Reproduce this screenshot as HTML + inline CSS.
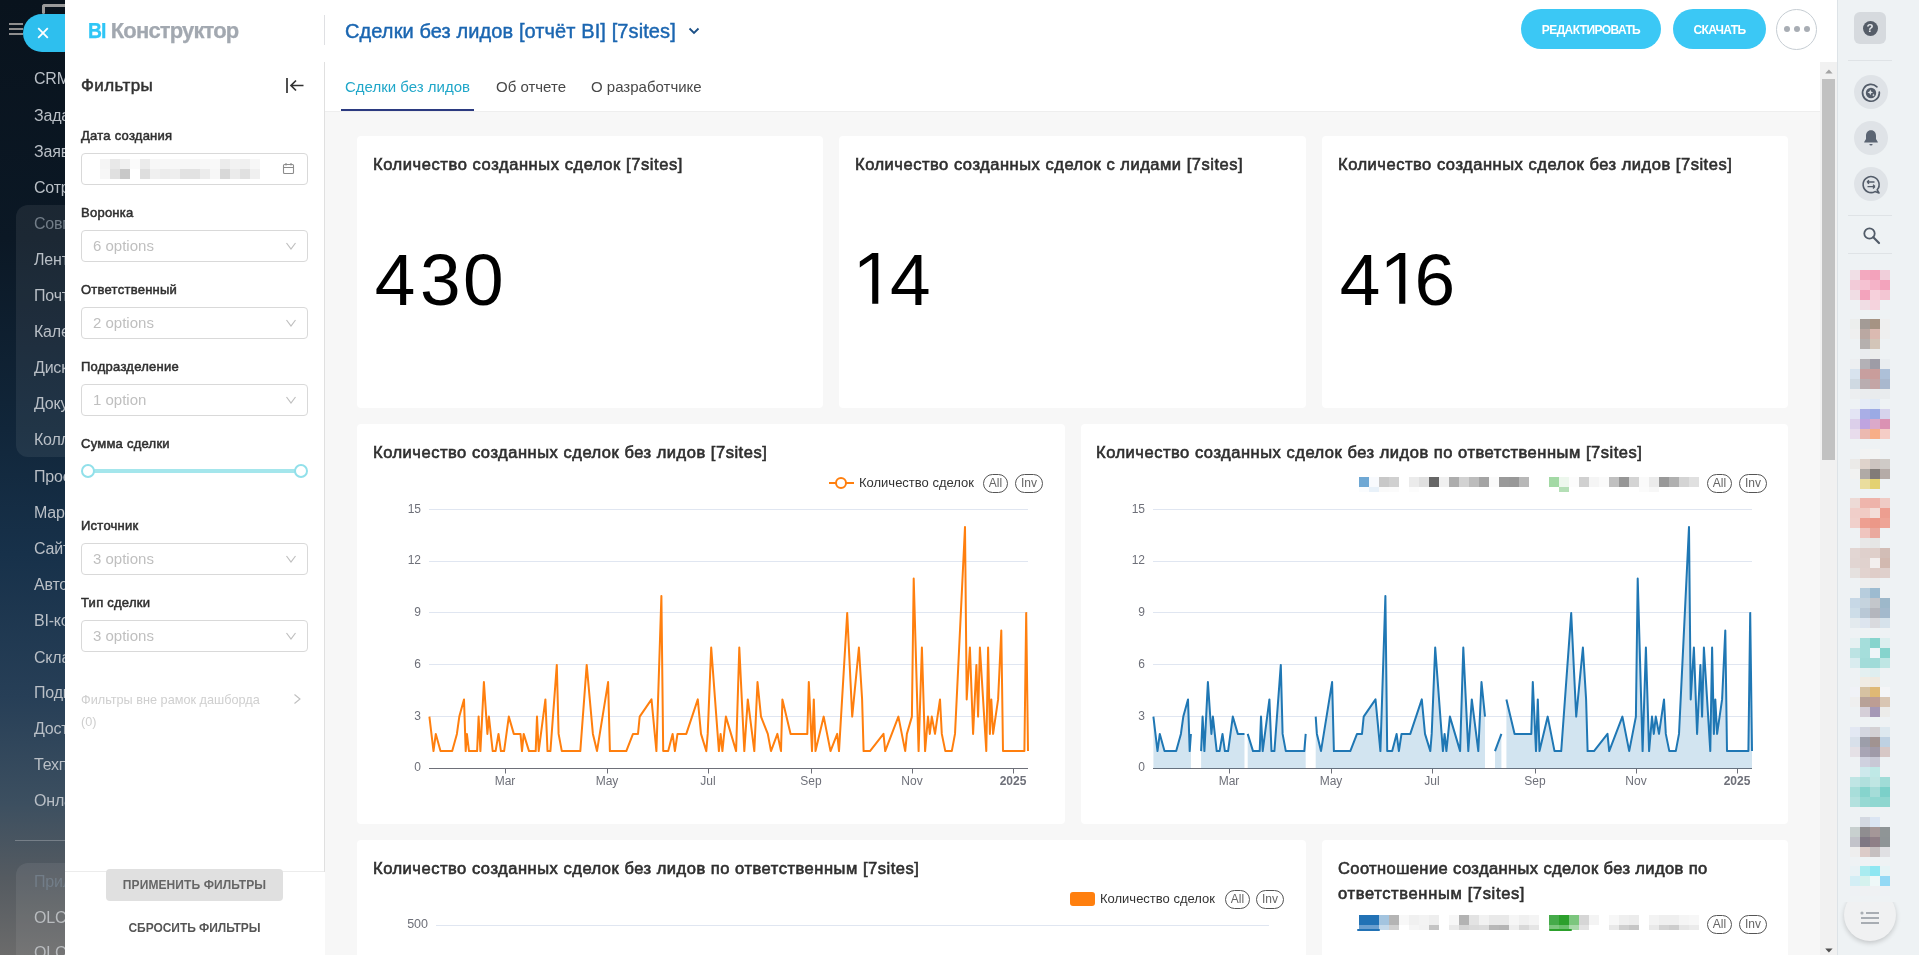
<!DOCTYPE html>
<html lang="ru">
<head>
<meta charset="utf-8">
<title>BI Конструктор</title>
<style>
*{box-sizing:border-box;margin:0;padding:0}
html,body{width:1919px;height:955px;overflow:hidden;background:#fff;font-family:"Liberation Sans",sans-serif;}
body{position:relative}
#root{position:absolute;left:0;top:0;width:1919px;height:955px;overflow:hidden;will-change:transform}
.abs{position:absolute}
/* left dark menu */
#lm{position:absolute;left:0;top:0;width:65px;height:955px;overflow:hidden;
 background:linear-gradient(180deg,#09131d 0%,#0b1825 25%,#11263a 45%,#17314a 58%,#273f57 73%,#3c4f60 84%,#555b61 92%,#6b6b6b 100%);}
#lm .grp{position:absolute;left:16px;width:80px;border-radius:12px;background:rgba(255,255,255,.07)}
#lm .mi{position:absolute;left:34px;margin-top:1.8px;font-size:16px;color:#b9bfc6;white-space:nowrap;line-height:20px;letter-spacing:-.2px}
#lm .mi.dim{color:#727d88}
#lm .sep{position:absolute;left:15px;top:840px;width:60px;height:1px;background:rgba(255,255,255,.25)}
.burger{position:absolute;left:9px;width:14px;height:2px;background:#8e8e8e}
#closeb{position:absolute;left:23px;top:14px;width:60px;height:38px;border-radius:19px;background:#2ebfee}
/* slider panel */
#panel{position:absolute;left:65px;top:0;width:1772px;height:955px;background:#fff;border-radius:4px 4px 0 0}
.logo{position:absolute;left:88px;top:17px;font-size:22px;line-height:28px;font-weight:bold;letter-spacing:-1.05px;white-space:nowrap;-webkit-text-stroke:.25px}
.logo b{color:#2fc6f6;display:inline-block;transform:scaleX(.88);transform-origin:0 50%;margin-right:-2.2px}.logo span{color:#a2a8b0;letter-spacing:-.85px}
.vsep{position:absolute;left:324px;top:15px;width:1px;height:30px;background:#dfe0e3}
.title{position:absolute;left:345px;top:18px;font-size:20px;line-height:26px;color:#1b66b1;white-space:nowrap;-webkit-text-stroke:.45px #1b66b1;letter-spacing:.1px}
.btn{position:absolute;top:9px;height:39.5px;border-radius:20px;background:#3bc8f5;color:#fff;font-weight:bold;font-size:12px;line-height:42.5px;text-align:center;letter-spacing:-.6px}
.more{position:absolute;left:1776px;top:9px;width:41px;height:41px;border-radius:50%;border:1px solid #c6cdd3;background:#fff}
.more i{position:absolute;top:16px;width:6px;height:6px;border-radius:50%;background:#a8adb4}
/* filter bar */
#fb{position:absolute;left:65px;top:62px;width:260px;height:893px;background:#fff;border-right:1px solid #e0e0e0}
.fl{position:absolute;left:81px;margin-top:1px;font-size:13px;line-height:16px;color:#2f2f2f;font-weight:normal;-webkit-text-stroke:.5px #2f2f2f;white-space:nowrap;letter-spacing:.25px}
.sel{position:absolute;left:81px;width:227px;height:32px;border:1px solid #d9d9d9;border-radius:4px;background:#fff;
  font-size:15px;line-height:30px;color:#bfbfbf;padding-left:11px}
.sel svg{position:absolute;right:10px;top:10px}
/* tabs */
.tab{position:absolute;top:78px;font-size:15px;line-height:18px;color:#484848;white-space:nowrap}
/* dashboard */
#dash{position:absolute;left:325px;top:112px;width:1495px;height:843px;background:#f7f7f7}
.card{position:absolute;background:#fff;border-radius:4px}
.ct{position:absolute;font-size:16.5px;line-height:25px;color:#2f2f2f;white-space:nowrap;font-weight:normal;-webkit-text-stroke:.62px #2f2f2f;letter-spacing:.52px}
.big{position:absolute;margin-top:-.5px;font-size:73px;line-height:73px;color:#000;white-space:nowrap}
svg.charts{position:absolute;left:0;top:0;pointer-events:none}
svg.charts text.ax{font-family:"Liberation Sans",sans-serif;font-size:12px;fill:#6e7079}
svg.charts text.axb{font-weight:bold}
.leg{position:absolute;font-size:13px;line-height:16px;color:#333;white-space:nowrap}
.pill{position:absolute;height:19px;border:1px solid #555;border-radius:10px;font-size:12px;line-height:17px;color:#666;text-align:center}
/* scrollbar */
#sb{position:absolute;left:1820px;top:62px;width:17px;height:893px;background:#f1f1f1}
#sb .th{position:absolute;left:2px;top:17px;width:13px;height:381px;background:#c1c1c1}
/* right bar */
#rb{position:absolute;left:1837px;top:0;width:83px;height:955px;background:#eef2f4;border-left:1px solid #dde3e7}
.rsep{position:absolute;left:1848px;width:44px;height:1px;background:#dfe3e6}
.rc{position:absolute;left:1854px;width:34px;height:34px;border-radius:50%;background:#dfe3e7}
.px{position:absolute;width:10px;height:10px}
</style>
</head>
<body>
<div id="root">

<!-- LEFT DARK MENU -->
<div id="lm">
  <div class="grp" style="top:205px;height:252px"></div>
  <div class="grp" style="top:863px;height:120px"></div>
  <div class="burger" style="top:23px"></div><div class="burger" style="top:28px"></div><div class="burger" style="top:33px"></div>
  <div class="abs" style="left:42px;top:4px;width:40px;height:8.5px;border:3px solid #9a9a9a;border-bottom:0;border-right:0;border-radius:3px 0 0 0"></div><div class="abs" style="left:42px;top:11px;width:3px;height:3px;border-radius:0 0 1.5px 1.5px;background:#9a9a9a"></div>
  <div class="mi" style="top:67px">CRM</div>
  <div class="mi" style="top:104px">Задачи</div>
  <div class="mi" style="top:140px">Заявки</div>
  <div class="mi" style="top:176px">Сотрудники</div>
  <div class="mi dim" style="top:212px">Совместная</div>
  <div class="mi" style="top:248px">Лента</div>
  <div class="mi" style="top:284px">Почта</div>
  <div class="mi" style="top:320px">Календарь</div>
  <div class="mi" style="top:356px">Диск</div>
  <div class="mi" style="top:392px">Документы</div>
  <div class="mi" style="top:428px">Коллабы</div>
  <div class="mi" style="top:465px">Проекты</div>
  <div class="mi" style="top:501px">Маркет</div>
  <div class="mi" style="top:537px">Сайты</div>
  <div class="mi" style="top:573px">Автоматизация</div>
  <div class="mi" style="top:609px">BI-конструктор</div>
  <div class="mi" style="top:646px">Склад</div>
  <div class="mi" style="top:681px">Подпись</div>
  <div class="mi" style="top:717px">Доступ</div>
  <div class="mi" style="top:753px">Техподдержка</div>
  <div class="mi" style="top:789px">Онлайн</div>
  <div class="sep"></div>
  <div class="mi dim" style="top:870px">Приложения</div>
  <div class="mi" style="top:906px;color:#b9bcbf">OLCHA</div>
  <div class="mi" style="top:941px;color:#b9bcbf">OLCHA</div>
</div>

<!-- PANEL -->
<div id="panel"></div>
<div id="closeb"><svg class="abs" style="left:14px;top:13px" width="12" height="12" viewBox="0 0 12 12"><path d="M1.2 1.2 L10.8 10.8 M10.8 1.2 L1.2 10.8" stroke="#fff" stroke-width="1.8" fill="none"/></svg></div>
<div id="panelcover" class="abs" style="left:65px;top:0;width:40px;height:62px;background:#fff;border-radius:4px 0 0 0"></div>

<!-- HEADER -->
<div class="logo"><b>BI</b> <span>Конструктор</span></div>
<div class="vsep"></div>
<div class="title">Сделки без лидов [отчёт BI] [7sites]</div>
<svg class="abs" style="left:688px;top:26px" width="12" height="10" viewBox="0 0 12 10"><path d="M1.5 2.5 L6 7 L10.5 2.5" stroke="#1b4f86" stroke-width="1.8" fill="none"/></svg>
<div class="btn" style="left:1521px;width:140px">РЕДАКТИРОВАТЬ</div>
<div class="btn" style="left:1673px;width:93px">СКАЧАТЬ</div>
<div class="more"><i style="left:6.5px"></i><i style="left:16.5px"></i><i style="left:26.5px"></i></div>

<!-- FILTER BAR -->
<div id="fb"></div>
<div class="abs" style="left:81px;top:75px;font-size:17px;line-height:22px;color:#323232;-webkit-text-stroke:.5px #323232;letter-spacing:.4px">Фильтры</div>
<svg class="abs" style="left:285px;top:77px" width="20" height="17" viewBox="0 0 20 17"><path d="M2 1 V16 M18.5 8.5 H6 M11 3.5 L6 8.5 L11 13.5" stroke="#323232" stroke-width="1.7" fill="none"/></svg>

<div class="fl" style="top:127px">Дата создания</div>
<div class="sel" style="top:153px"></div>
<svg class="abs" style="left:282px;top:162px" width="13" height="13" viewBox="0 0 13 13"><rect x="1.5" y="2.5" width="10" height="9" rx="1" fill="none" stroke="#8c8c8c" stroke-width="1.1"/><path d="M1.5 5.5 H11.5 M4 1 V3.5 M9 1 V3.5" stroke="#8c8c8c" stroke-width="1.1" fill="none"/></svg>
<div class="px" style="left:100px;top:159px;height:10px;background:#f5f5f5"></div><div class="px" style="left:110px;top:159px;height:10px;background:#e8e8e8"></div><div class="px" style="left:120px;top:159px;height:10px;background:#f0f0f0"></div><div class="px" style="left:130px;top:159px;height:10px;background:#fbfbfb"></div><div class="px" style="left:140px;top:159px;height:10px;background:#ebebeb"></div><div class="px" style="left:150px;top:159px;height:10px;background:#f7f7f7"></div><div class="px" style="left:160px;top:159px;height:10px;background:#f7f7f7"></div><div class="px" style="left:170px;top:159px;height:10px;background:#f7f7f7"></div><div class="px" style="left:180px;top:159px;height:10px;background:#f7f7f7"></div><div class="px" style="left:190px;top:159px;height:10px;background:#f7f7f7"></div><div class="px" style="left:200px;top:159px;height:10px;background:#f8f8f8"></div><div class="px" style="left:210px;top:159px;height:10px;background:#f9f9f9"></div><div class="px" style="left:220px;top:159px;height:10px;background:#ececec"></div><div class="px" style="left:230px;top:159px;height:10px;background:#f2f2f2"></div><div class="px" style="left:240px;top:159px;height:10px;background:#f0f0f0"></div><div class="px" style="left:250px;top:159px;height:10px;background:#f7f7f7"></div><div class="px" style="left:100px;top:169px;height:10px;background:#f7f7f7"></div><div class="px" style="left:110px;top:169px;height:10px;background:#e0e0e0"></div><div class="px" style="left:120px;top:169px;height:10px;background:#c8c8c8"></div><div class="px" style="left:140px;top:169px;height:10px;background:#dedede"></div><div class="px" style="left:150px;top:169px;height:10px;background:#f0f0f0"></div><div class="px" style="left:160px;top:169px;height:10px;background:#ececec"></div><div class="px" style="left:170px;top:169px;height:10px;background:#eeeeee"></div><div class="px" style="left:180px;top:169px;height:10px;background:#e2e2e2"></div><div class="px" style="left:190px;top:169px;height:10px;background:#e2e2e2"></div><div class="px" style="left:200px;top:169px;height:10px;background:#ececec"></div><div class="px" style="left:210px;top:169px;height:10px;background:#f7f7f7"></div><div class="px" style="left:220px;top:169px;height:10px;background:#d8d8d8"></div><div class="px" style="left:230px;top:169px;height:10px;background:#ebebeb"></div><div class="px" style="left:240px;top:169px;height:10px;background:#e0e0e0"></div><div class="px" style="left:250px;top:169px;height:10px;background:#f0f0f0"></div>

<div class="fl" style="top:204px">Воронка</div>
<div class="sel" style="top:230px">6 options<svg width="12" height="10" viewBox="0 0 12 10"><path d="M1.5 2 L6 8 L10.5 2" stroke="#bfbfbf" stroke-width="1.2" fill="none"/></svg></div>
<div class="fl" style="top:281px">Ответственный</div>
<div class="sel" style="top:307px">2 options<svg width="12" height="10" viewBox="0 0 12 10"><path d="M1.5 2 L6 8 L10.5 2" stroke="#bfbfbf" stroke-width="1.2" fill="none"/></svg></div>
<div class="fl" style="top:358px">Подразделение</div>
<div class="sel" style="top:384px">1 option<svg width="12" height="10" viewBox="0 0 12 10"><path d="M1.5 2 L6 8 L10.5 2" stroke="#bfbfbf" stroke-width="1.2" fill="none"/></svg></div>
<div class="fl" style="top:435px">Сумма сделки</div>
<div class="abs" style="left:88px;top:469px;width:213px;height:4px;background:#a4e6ec"></div>
<div class="abs" style="left:81px;top:464px;width:14px;height:14px;border-radius:50%;border:2px solid #91e0ea;background:#fff"></div>
<div class="abs" style="left:294px;top:464px;width:14px;height:14px;border-radius:50%;border:2px solid #91e0ea;background:#fff"></div>
<div class="fl" style="top:517px">Источник</div>
<div class="sel" style="top:543px">3 options<svg width="12" height="10" viewBox="0 0 12 10"><path d="M1.5 2 L6 8 L10.5 2" stroke="#bfbfbf" stroke-width="1.2" fill="none"/></svg></div>
<div class="fl" style="top:594px">Тип сделки</div>
<div class="sel" style="top:620px">3 options<svg width="12" height="10" viewBox="0 0 12 10"><path d="M1.5 2 L6 8 L10.5 2" stroke="#bfbfbf" stroke-width="1.2" fill="none"/></svg></div>
<div class="abs" style="left:81px;top:693px;font-size:12.7px;line-height:15px;color:#cfcfcf;white-space:nowrap">Фильтры вне рамок дашборда</div>
<div class="abs" style="left:81px;top:715px;font-size:12.7px;line-height:15px;color:#cfcfcf">(0)</div>
<svg class="abs" style="left:292px;top:693px" width="10" height="12" viewBox="0 0 10 12"><path d="M2.5 1.5 L8 6 L2.5 10.5" stroke="#bfbfbf" stroke-width="1.1" fill="none"/></svg>
<div class="abs" style="left:65px;top:871px;width:259px;height:1px;background:#ececec"></div>
<div class="abs" style="left:65px;top:872px;width:260px;height:83px;background:#fff"></div>
<div class="abs" style="left:106px;top:869px;width:177px;height:32px;border-radius:4px;background:#e0e0e0;color:#666;font-size:12px;font-weight:bold;line-height:33px;text-align:center;letter-spacing:.1px">ПРИМЕНИТЬ ФИЛЬТРЫ</div>
<div class="abs" style="left:106px;top:913.3px;width:177px;height:31px;color:#555;font-size:12px;font-weight:bold;line-height:31px;text-align:center;letter-spacing:-.05px">СБРОСИТЬ ФИЛЬТРЫ</div>

<!-- TABS -->
<div class="tab" style="left:345px;color:#20a7c9">Сделки без лидов</div>
<div class="tab" style="left:496px">Об отчете</div>
<div class="tab" style="left:591px">О разработчике</div>
<div class="abs" style="left:325px;top:111px;width:1495px;height:1px;background:#eeeeee"></div>
<div class="abs" style="left:341px;top:109px;width:133px;height:2px;background:#2b3a80"></div>

<!-- DASHBOARD -->
<div id="dash"></div>
<div class="card" style="left:357px;top:136px;width:466px;height:272px"></div>
<div class="card" style="left:839px;top:136px;width:467px;height:272px"></div>
<div class="card" style="left:1322px;top:136px;width:466px;height:272px"></div>
<div class="card" style="left:357px;top:424px;width:708px;height:400px"></div>
<div class="card" style="left:1081px;top:424px;width:707px;height:400px"></div>
<div class="card" style="left:357px;top:840px;width:949px;height:130px"></div>
<div class="card" style="left:1322px;top:840px;width:466px;height:130px"></div>

<div class="ct" style="left:373px;top:152px;letter-spacing:.58px">Количество созданных сделок [7sites]</div>
<div class="ct" style="left:855px;top:152px">Количество созданных сделок с лидами [7sites]</div>
<div class="ct" style="left:1338px;top:152px">Количество созданных сделок без лидов [7sites]</div>
<div class="big" style="left:374.8px;top:243px">4</div><div class="big" style="left:420px;top:243px">3</div><div class="big" style="left:463.1px;top:243px">0</div>
<svg class="abs" style="left:859.0px;top:250px" width="24" height="56" viewBox="0 0 24 56"><path d="M13.2 3.1 H19.3 V53.8 H13.2 V9 L0.8 17.4 V11.5 Z" fill="#000"/></svg><div class="big" style="left:890px;top:243px">4</div>
<div class="big" style="left:1339.8px;top:243px">4</div><svg class="abs" style="left:1386.4px;top:250px" width="24" height="56" viewBox="0 0 24 56"><path d="M13.2 3.1 H19.3 V53.8 H13.2 V9 L0.8 17.4 V11.5 Z" fill="#000"/></svg><div class="big" style="left:1414.5px;top:243px">6</div>

<div class="ct" style="left:373px;top:440px">Количество созданных сделок без лидов [7sites]</div>
<div class="ct" style="left:1096px;top:440px">Количество созданных сделок без лидов по ответственным [7sites]</div>
<div class="ct" style="left:373px;top:856px">Количество созданных сделок без лидов по ответственным [7sites]</div>
<div class="ct" style="left:1338px;top:856px;letter-spacing:.4px">Соотношение созданных сделок без лидов по</div>
<div class="ct" style="left:1338px;top:881px;letter-spacing:.65px">ответственным [7sites]</div>

<svg class="charts" width="1919" height="955" viewBox="0 0 1919 955"><line x1="429" y1="716.5" x2="1028" y2="716.5" stroke="#e0e6f1" stroke-width="1"/><line x1="429" y1="664.5" x2="1028" y2="664.5" stroke="#e0e6f1" stroke-width="1"/><line x1="429" y1="612.5" x2="1028" y2="612.5" stroke="#e0e6f1" stroke-width="1"/><line x1="429" y1="561.5" x2="1028" y2="561.5" stroke="#e0e6f1" stroke-width="1"/><line x1="429" y1="509.5" x2="1028" y2="509.5" stroke="#e0e6f1" stroke-width="1"/><line x1="429" y1="768.5" x2="1028" y2="768.5" stroke="#6e7079" stroke-width="1"/><text x="421" y="771.3" text-anchor="end" class="ax">0</text><text x="421" y="719.5" text-anchor="end" class="ax">3</text><text x="421" y="667.8" text-anchor="end" class="ax">6</text><text x="421" y="616.0" text-anchor="end" class="ax">9</text><text x="421" y="564.3" text-anchor="end" class="ax">12</text><text x="421" y="512.5" text-anchor="end" class="ax">15</text><line x1="505.5" y1="769" x2="505.5" y2="773.5" stroke="#6e7079" stroke-width="1"/><text x="505" y="785" text-anchor="middle" class="ax">Mar</text><line x1="607.5" y1="769" x2="607.5" y2="773.5" stroke="#6e7079" stroke-width="1"/><text x="607" y="785" text-anchor="middle" class="ax">May</text><line x1="708.5" y1="769" x2="708.5" y2="773.5" stroke="#6e7079" stroke-width="1"/><text x="708" y="785" text-anchor="middle" class="ax">Jul</text><line x1="811.5" y1="769" x2="811.5" y2="773.5" stroke="#6e7079" stroke-width="1"/><text x="811" y="785" text-anchor="middle" class="ax">Sep</text><line x1="912.5" y1="769" x2="912.5" y2="773.5" stroke="#6e7079" stroke-width="1"/><text x="912" y="785" text-anchor="middle" class="ax">Nov</text><line x1="1013.5" y1="769" x2="1013.5" y2="773.5" stroke="#6e7079" stroke-width="1"/><text x="1013" y="785" text-anchor="middle" class="ax axb">2025</text><path d="M429.4 716.6 L433.5 751.1 L435.8 733.9 L440.5 751.1 L452.2 751.1 L456.9 733.9 L459.3 716.6 L464.0 699.4 L465.7 751.1 L466.9 733.9 L469.0 751.1 L477.1 751.1 L478.6 716.6 L480.4 751.1 L483.9 682.1 L487.4 733.9 L488.9 716.6 L492.7 751.1 L495.6 751.1 L498.5 733.9 L500.9 751.1 L504.1 751.1 L508.8 716.6 L513.8 733.9 L520.5 733.9 L522.0 751.1 L523.7 733.9 L529.0 751.1 L535.7 751.1 L537.0 716.6 L538.7 751.1 L545.4 699.4 L547.5 751.1 L550.4 751.1 L556.8 664.9 L558.6 733.9 L561.8 751.1 L580.3 751.1 L586.7 664.9 L592.9 733.9 L597.0 751.1 L608.1 682.1 L609.9 751.1 L626.3 751.1 L633.0 733.9 L638.0 733.9 L639.7 716.6 L651.5 699.4 L656.4 751.1 L661.4 595.9 L663.2 751.1 L668.2 751.1 L672.6 733.9 L674.9 751.1 L677.5 733.9 L686.3 733.9 L697.8 699.4 L701.0 733.9 L706.3 751.1 L707.7 733.9 L711.2 647.6 L718.9 751.1 L720.6 733.9 L722.4 751.1 L725.9 716.6 L736.1 751.1 L739.3 647.6 L744.3 751.1 L747.8 699.4 L754.3 751.1 L757.5 682.1 L761.0 716.6 L767.8 733.9 L771.0 751.1 L777.4 733.9 L781.0 751.1 L782.4 699.4 L790.6 733.9 L807.3 733.9 L808.8 682.1 L812.0 751.1 L813.8 699.4 L815.5 751.1 L823.7 716.6 L830.5 751.1 L837.2 733.9 L839.0 751.1 L847.2 613.1 L852.2 716.6 L858.9 647.6 L862.1 699.4 L863.6 751.1 L870.0 751.1 L883.5 733.9 L885.2 751.1 L898.4 716.6 L905.2 751.1 L906.9 733.9 L911.9 716.6 L913.7 578.6 L918.6 751.1 L921.9 647.6 L925.1 751.1 L928.0 716.6 L929.8 733.9 L931.8 716.6 L935.0 733.9 L940.0 699.4 L941.8 733.9 L945.3 751.1 L951.8 751.1 L955.0 733.9 L965.0 526.9 L966.7 699.4 L969.9 647.6 L973.1 733.9 L976.4 664.9 L978.1 716.6 L979.9 647.6 L986.3 751.1 L988.1 647.6 L989.9 733.9 L991.3 699.4 L993.1 733.9 L998.1 699.4 L1001.3 630.4 L1003.0 751.1 L1024.4 751.1 L1026.2 613.1 L1028.0 751.1" fill="none" stroke="#ff7f0e" stroke-width="2" stroke-linejoin="round"/><line x1="1153" y1="716.5" x2="1752" y2="716.5" stroke="#e0e6f1" stroke-width="1"/><line x1="1153" y1="664.5" x2="1752" y2="664.5" stroke="#e0e6f1" stroke-width="1"/><line x1="1153" y1="612.5" x2="1752" y2="612.5" stroke="#e0e6f1" stroke-width="1"/><line x1="1153" y1="561.5" x2="1752" y2="561.5" stroke="#e0e6f1" stroke-width="1"/><line x1="1153" y1="509.5" x2="1752" y2="509.5" stroke="#e0e6f1" stroke-width="1"/><line x1="1153" y1="768.5" x2="1752" y2="768.5" stroke="#6e7079" stroke-width="1"/><text x="1145" y="771.3" text-anchor="end" class="ax">0</text><text x="1145" y="719.5" text-anchor="end" class="ax">3</text><text x="1145" y="667.8" text-anchor="end" class="ax">6</text><text x="1145" y="616.0" text-anchor="end" class="ax">9</text><text x="1145" y="564.3" text-anchor="end" class="ax">12</text><text x="1145" y="512.5" text-anchor="end" class="ax">15</text><line x1="1229.5" y1="769" x2="1229.5" y2="773.5" stroke="#6e7079" stroke-width="1"/><text x="1229" y="785" text-anchor="middle" class="ax">Mar</text><line x1="1331.5" y1="769" x2="1331.5" y2="773.5" stroke="#6e7079" stroke-width="1"/><text x="1331" y="785" text-anchor="middle" class="ax">May</text><line x1="1432.5" y1="769" x2="1432.5" y2="773.5" stroke="#6e7079" stroke-width="1"/><text x="1432" y="785" text-anchor="middle" class="ax">Jul</text><line x1="1535.5" y1="769" x2="1535.5" y2="773.5" stroke="#6e7079" stroke-width="1"/><text x="1535" y="785" text-anchor="middle" class="ax">Sep</text><line x1="1636.5" y1="769" x2="1636.5" y2="773.5" stroke="#6e7079" stroke-width="1"/><text x="1636" y="785" text-anchor="middle" class="ax">Nov</text><line x1="1737.5" y1="769" x2="1737.5" y2="773.5" stroke="#6e7079" stroke-width="1"/><text x="1737" y="785" text-anchor="middle" class="ax axb">2025</text><path d="M1153.4 716.6 L1157.5 751.1 L1159.8 733.9 L1164.5 751.1 L1176.2 751.1 L1180.9 733.9 L1183.3 716.6 L1188.0 699.4 L1189.7 751.1 L1190.9 733.9 L1190.9 768.4 L1153.4 768.4 Z" fill="#1f77b4" fill-opacity="0.2" stroke="none"/><path d="M1201.1 751.1 L1202.6 716.6 L1204.4 751.1 L1207.9 682.1 L1211.4 733.9 L1212.9 716.6 L1216.7 751.1 L1219.6 751.1 L1222.5 733.9 L1224.9 751.1 L1228.1 751.1 L1232.8 716.6 L1237.8 733.9 L1244.5 733.9 L1244.5 768.4 L1201.1 768.4 Z" fill="#1f77b4" fill-opacity="0.2" stroke="none"/><path d="M1247.7 733.9 L1253.0 751.1 L1259.7 751.1 L1261.0 716.6 L1262.7 751.1 L1269.4 699.4 L1271.5 751.1 L1274.4 751.1 L1280.8 664.9 L1282.6 733.9 L1285.8 751.1 L1304.3 751.1 L1305.7 733.9 L1305.7 768.4 L1247.7 768.4 Z" fill="#1f77b4" fill-opacity="0.2" stroke="none"/><path d="M1315.7 716.6 L1316.9 733.9 L1321.0 751.1 L1332.1 682.1 L1333.9 751.1 L1350.3 751.1 L1357.0 733.9 L1362.0 733.9 L1363.7 716.6 L1375.5 699.4 L1380.4 751.1 L1385.4 595.9 L1387.2 751.1 L1392.2 751.1 L1396.6 733.9 L1398.9 751.1 L1401.5 733.9 L1410.3 733.9 L1421.8 699.4 L1425.0 733.9 L1430.3 751.1 L1431.7 733.9 L1435.2 647.6 L1442.9 751.1 L1444.6 733.9 L1446.4 751.1 L1449.9 716.6 L1460.1 751.1 L1463.3 647.6 L1468.3 751.1 L1471.8 699.4 L1478.3 751.1 L1481.5 682.1 L1485.0 716.6 L1485.0 768.4 L1315.7 768.4 Z" fill="#1f77b4" fill-opacity="0.2" stroke="none"/><path d="M1495.0 751.1 L1501.4 733.9 L1501.4 768.4 L1495.0 768.4 Z" fill="#1f77b4" fill-opacity="0.2" stroke="none"/><path d="M1506.4 699.4 L1514.6 733.9 L1531.3 733.9 L1532.8 682.1 L1536.0 751.1 L1537.8 699.4 L1539.5 751.1 L1547.7 716.6 L1554.5 751.1 L1561.2 751.1 L1571.2 613.1 L1576.2 716.6 L1582.9 647.6 L1586.1 699.4 L1587.6 751.1 L1594.0 751.1 L1607.5 733.9 L1609.2 751.1 L1622.4 716.6 L1629.2 751.1 L1635.9 716.6 L1637.7 578.6 L1642.6 751.1 L1645.9 647.6 L1649.1 751.1 L1652.0 716.6 L1653.8 733.9 L1655.8 716.6 L1659.0 733.9 L1664.0 699.4 L1665.8 733.9 L1669.3 751.1 L1675.8 751.1 L1679.0 733.9 L1689.0 526.9 L1690.7 699.4 L1693.9 647.6 L1697.1 733.9 L1700.4 664.9 L1702.1 716.6 L1703.9 647.6 L1710.3 751.1 L1712.1 647.6 L1713.9 733.9 L1715.3 699.4 L1717.1 733.9 L1722.1 699.4 L1725.3 630.4 L1727.0 751.1 L1748.4 751.1 L1750.2 613.1 L1752.0 751.1 L1752.0 768.4 L1506.4 768.4 Z" fill="#1f77b4" fill-opacity="0.2" stroke="none"/><path d="M1153.4 716.6 L1157.5 751.1 L1159.8 733.9 L1164.5 751.1 L1176.2 751.1 L1180.9 733.9 L1183.3 716.6 L1188.0 699.4 L1189.7 751.1 L1190.9 733.9" fill="none" stroke="#1f77b4" stroke-width="2" stroke-linejoin="round"/><path d="M1201.1 751.1 L1202.6 716.6 L1204.4 751.1 L1207.9 682.1 L1211.4 733.9 L1212.9 716.6 L1216.7 751.1 L1219.6 751.1 L1222.5 733.9 L1224.9 751.1 L1228.1 751.1 L1232.8 716.6 L1237.8 733.9 L1244.5 733.9" fill="none" stroke="#1f77b4" stroke-width="2" stroke-linejoin="round"/><path d="M1247.7 733.9 L1253.0 751.1 L1259.7 751.1 L1261.0 716.6 L1262.7 751.1 L1269.4 699.4 L1271.5 751.1 L1274.4 751.1 L1280.8 664.9 L1282.6 733.9 L1285.8 751.1 L1304.3 751.1 L1305.7 733.9" fill="none" stroke="#1f77b4" stroke-width="2" stroke-linejoin="round"/><path d="M1315.7 716.6 L1316.9 733.9 L1321.0 751.1 L1332.1 682.1 L1333.9 751.1 L1350.3 751.1 L1357.0 733.9 L1362.0 733.9 L1363.7 716.6 L1375.5 699.4 L1380.4 751.1 L1385.4 595.9 L1387.2 751.1 L1392.2 751.1 L1396.6 733.9 L1398.9 751.1 L1401.5 733.9 L1410.3 733.9 L1421.8 699.4 L1425.0 733.9 L1430.3 751.1 L1431.7 733.9 L1435.2 647.6 L1442.9 751.1 L1444.6 733.9 L1446.4 751.1 L1449.9 716.6 L1460.1 751.1 L1463.3 647.6 L1468.3 751.1 L1471.8 699.4 L1478.3 751.1 L1481.5 682.1 L1485.0 716.6" fill="none" stroke="#1f77b4" stroke-width="2" stroke-linejoin="round"/><path d="M1495.0 751.1 L1501.4 733.9" fill="none" stroke="#1f77b4" stroke-width="2" stroke-linejoin="round"/><path d="M1506.4 699.4 L1514.6 733.9 L1531.3 733.9 L1532.8 682.1 L1536.0 751.1 L1537.8 699.4 L1539.5 751.1 L1547.7 716.6 L1554.5 751.1 L1561.2 751.1 L1571.2 613.1 L1576.2 716.6 L1582.9 647.6 L1586.1 699.4 L1587.6 751.1 L1594.0 751.1 L1607.5 733.9 L1609.2 751.1 L1622.4 716.6 L1629.2 751.1 L1635.9 716.6 L1637.7 578.6 L1642.6 751.1 L1645.9 647.6 L1649.1 751.1 L1652.0 716.6 L1653.8 733.9 L1655.8 716.6 L1659.0 733.9 L1664.0 699.4 L1665.8 733.9 L1669.3 751.1 L1675.8 751.1 L1679.0 733.9 L1689.0 526.9 L1690.7 699.4 L1693.9 647.6 L1697.1 733.9 L1700.4 664.9 L1702.1 716.6 L1703.9 647.6 L1710.3 751.1 L1712.1 647.6 L1713.9 733.9 L1715.3 699.4 L1717.1 733.9 L1722.1 699.4 L1725.3 630.4 L1727.0 751.1 L1748.4 751.1 L1750.2 613.1 L1752.0 751.1" fill="none" stroke="#1f77b4" stroke-width="2" stroke-linejoin="round"/></svg>

<!-- legends -->
<svg class="abs" style="left:828px;top:475px" width="28" height="16" viewBox="0 0 28 16"><path d="M1 8 H26" stroke="#ff7f0e" stroke-width="2"/><circle cx="13" cy="8" r="5" fill="#fff" stroke="#ff7f0e" stroke-width="2"/></svg>
<div class="leg" style="left:859px;top:475px">Количество сделок</div>
<div class="pill" style="left:983px;top:474px;width:25px">All</div>
<div class="pill" style="left:1015px;top:474px;width:28px">Inv</div>
<div class="pill" style="left:1707px;top:474px;width:25px">All</div>
<div class="pill" style="left:1739px;top:474px;width:28px">Inv</div>

<div class="abs" style="left:1070px;top:892px;width:25px;height:14px;border-radius:3px;background:#ff7f0e"></div>
<div class="leg" style="left:1100px;top:891px">Количество сделок</div>
<div class="pill" style="left:1225px;top:890px;width:25px">All</div>
<div class="pill" style="left:1256px;top:890px;width:28px">Inv</div>
<div class="pill" style="left:1707px;top:915px;width:25px">All</div>
<div class="pill" style="left:1739px;top:915px;width:28px">Inv</div>
<div class="abs" style="left:436px;top:925px;width:833px;height:1px;background:#e0e6f1"></div>
<div class="abs" style="left:398px;top:916px;width:30px;text-align:right;font-size:12.5px;line-height:16px;color:#6e7079">500</div>
<div class="px" style="left:1359px;top:477px;height:10px;background:#6fa8d4"></div><div class="px" style="left:1369px;top:477px;height:10px;background:#f8fafd"></div><div class="px" style="left:1379px;top:477px;height:10px;background:#c8c8c8"></div><div class="px" style="left:1389px;top:477px;height:10px;background:#d0d0d0"></div><div class="px" style="left:1409px;top:477px;height:10px;background:#ebebeb"></div><div class="px" style="left:1419px;top:477px;height:10px;background:#e0e0e0"></div><div class="px" style="left:1429px;top:477px;height:10px;background:#666666"></div><div class="px" style="left:1439px;top:477px;height:10px;background:#f0f0f0"></div><div class="px" style="left:1449px;top:477px;height:10px;background:#adadad"></div><div class="px" style="left:1459px;top:477px;height:10px;background:#d2d2d2"></div><div class="px" style="left:1469px;top:477px;height:10px;background:#bcbcbc"></div><div class="px" style="left:1479px;top:477px;height:10px;background:#a4a4a4"></div><div class="px" style="left:1489px;top:477px;height:10px;background:#fafafa"></div><div class="px" style="left:1499px;top:477px;height:10px;background:#9a9a9a"></div><div class="px" style="left:1509px;top:477px;height:10px;background:#989898"></div><div class="px" style="left:1519px;top:477px;height:10px;background:#b8b8b8"></div><div class="px" style="left:1549px;top:477px;height:10px;background:#a3d9a5"></div><div class="px" style="left:1559px;top:477px;height:10px;background:#edf7ed"></div><div class="px" style="left:1569px;top:477px;height:10px;background:#fcfcfc"></div><div class="px" style="left:1579px;top:477px;height:10px;background:#d0d0d0"></div><div class="px" style="left:1589px;top:477px;height:10px;background:#f5f5f5"></div><div class="px" style="left:1599px;top:477px;height:10px;background:#fafafa"></div><div class="px" style="left:1609px;top:477px;height:10px;background:#c0c0c0"></div><div class="px" style="left:1619px;top:477px;height:10px;background:#969696"></div><div class="px" style="left:1629px;top:477px;height:10px;background:#d4d4d4"></div><div class="px" style="left:1639px;top:477px;height:10px;background:#fafafa"></div><div class="px" style="left:1649px;top:477px;height:10px;background:#ebebeb"></div><div class="px" style="left:1659px;top:477px;height:10px;background:#999999"></div><div class="px" style="left:1669px;top:477px;height:10px;background:#b0b0b0"></div><div class="px" style="left:1679px;top:477px;height:10px;background:#d4d4d4"></div><div class="px" style="left:1689px;top:477px;height:10px;background:#e0e0e0"></div><div class="px" style="left:1359px;top:487px;height:5px;background:#fafcfe"></div><div class="px" style="left:1369px;top:487px;height:5px;background:#e8f1f9"></div><div class="px" style="left:1379px;top:487px;height:5px;background:#fafafa"></div><div class="px" style="left:1389px;top:487px;height:5px;background:#fbfbfb"></div><div class="px" style="left:1409px;top:487px;height:5px;background:#fcfcfc"></div><div class="px" style="left:1559px;top:487px;height:5px;background:#b4dfb6"></div><div class="px" style="left:1639px;top:487px;height:5px;background:#fbfbfb"></div><div class="px" style="left:1649px;top:487px;height:5px;background:#f7f7f7"></div><div class="px" style="left:1359px;top:915px;height:10px;background:#2272b5"></div><div class="px" style="left:1369px;top:915px;height:10px;background:#2272b5"></div><div class="px" style="left:1379px;top:915px;height:10px;background:#a3c4df"></div><div class="px" style="left:1389px;top:915px;height:10px;background:#b4b4b4"></div><div class="px" style="left:1399px;top:915px;height:10px;background:#f8f8f8"></div><div class="px" style="left:1409px;top:915px;height:10px;background:#f0f0f0"></div><div class="px" style="left:1419px;top:915px;height:10px;background:#f3f3f3"></div><div class="px" style="left:1429px;top:915px;height:10px;background:#eeeeee"></div><div class="px" style="left:1449px;top:915px;height:10px;background:#f7f7f7"></div><div class="px" style="left:1459px;top:915px;height:10px;background:#b3b3b3"></div><div class="px" style="left:1469px;top:915px;height:10px;background:#e3e3e3"></div><div class="px" style="left:1479px;top:915px;height:10px;background:#f2f2f2"></div><div class="px" style="left:1489px;top:915px;height:10px;background:#e9e9e9"></div><div class="px" style="left:1499px;top:915px;height:10px;background:#e9e9e9"></div><div class="px" style="left:1509px;top:915px;height:10px;background:#f6f6f6"></div><div class="px" style="left:1519px;top:915px;height:10px;background:#f0f0f0"></div><div class="px" style="left:1529px;top:915px;height:10px;background:#f4f4f4"></div><div class="px" style="left:1549px;top:915px;height:10px;background:#45ab4a"></div><div class="px" style="left:1559px;top:915px;height:10px;background:#2ca02c"></div><div class="px" style="left:1569px;top:915px;height:10px;background:#7cc67e"></div><div class="px" style="left:1579px;top:915px;height:10px;background:#d6d6d6"></div><div class="px" style="left:1589px;top:915px;height:10px;background:#f4f4f4"></div><div class="px" style="left:1609px;top:915px;height:10px;background:#f7f7f7"></div><div class="px" style="left:1619px;top:915px;height:10px;background:#efefef"></div><div class="px" style="left:1629px;top:915px;height:10px;background:#ececec"></div><div class="px" style="left:1649px;top:915px;height:10px;background:#f3f3f3"></div><div class="px" style="left:1659px;top:915px;height:10px;background:#efefef"></div><div class="px" style="left:1669px;top:915px;height:10px;background:#efefef"></div><div class="px" style="left:1679px;top:915px;height:10px;background:#f5f5f5"></div><div class="px" style="left:1689px;top:915px;height:10px;background:#f7f7f7"></div><div class="px" style="left:1359px;top:925px;height:5px;background:#6b9fcf"></div><div class="px" style="left:1369px;top:925px;height:5px;background:#6b9fcf"></div><div class="px" style="left:1379px;top:925px;height:5px;background:#c4d9ea"></div><div class="px" style="left:1389px;top:925px;height:5px;background:#d0d0d0"></div><div class="px" style="left:1409px;top:925px;height:5px;background:#f5f5f5"></div><div class="px" style="left:1419px;top:925px;height:5px;background:#f2f2f2"></div><div class="px" style="left:1429px;top:925px;height:5px;background:#c4c4c4"></div><div class="px" style="left:1449px;top:925px;height:5px;background:#eaeaea"></div><div class="px" style="left:1459px;top:925px;height:5px;background:#d5d5d5"></div><div class="px" style="left:1469px;top:925px;height:5px;background:#dadada"></div><div class="px" style="left:1479px;top:925px;height:5px;background:#dcdcdc"></div><div class="px" style="left:1489px;top:925px;height:5px;background:#b8b8b8"></div><div class="px" style="left:1499px;top:925px;height:5px;background:#b5b5b5"></div><div class="px" style="left:1509px;top:925px;height:5px;background:#eeeeee"></div><div class="px" style="left:1519px;top:925px;height:5px;background:#d8d8d8"></div><div class="px" style="left:1529px;top:925px;height:5px;background:#e5e5e5"></div><div class="px" style="left:1549px;top:925px;height:5px;background:#7cc67e"></div><div class="px" style="left:1559px;top:925px;height:5px;background:#6abf6c"></div><div class="px" style="left:1569px;top:925px;height:5px;background:#a9d9aa"></div><div class="px" style="left:1579px;top:925px;height:5px;background:#e3e3e3"></div><div class="px" style="left:1609px;top:925px;height:5px;background:#e8e8e8"></div><div class="px" style="left:1619px;top:925px;height:5px;background:#cfcfcf"></div><div class="px" style="left:1629px;top:925px;height:5px;background:#c6c6c6"></div><div class="px" style="left:1649px;top:925px;height:5px;background:#e9e9e9"></div><div class="px" style="left:1659px;top:925px;height:5px;background:#d3d3d3"></div><div class="px" style="left:1669px;top:925px;height:5px;background:#cdcdcd"></div><div class="px" style="left:1679px;top:925px;height:5px;background:#e6e6e6"></div><div class="px" style="left:1689px;top:925px;height:5px;background:#ebebeb"></div><div class="abs" style="left:1357px;top:929px;width:23px;height:2px;background:#2272b5;border-radius:1px"></div><div class="abs" style="left:1549px;top:929px;width:23px;height:2px;background:#2ca02c;border-radius:1px"></div>

<!-- SCROLLBAR -->
<div id="sb"><div class="th"></div>
<svg class="abs" style="left:4.8px;top:6.5px" width="8" height="5" viewBox="0 0 8 5"><path d="M0.2 4.6 L3.9 0.4 L7.6 4.6 Z" fill="#a3a3a3"/></svg>
<svg class="abs" style="left:4.8px;top:885.5px" width="8" height="5" viewBox="0 0 8 5"><path d="M0.2 0.4 L3.9 4.6 L7.6 0.4 Z" fill="#505050"/></svg>
</div>

<!-- RIGHT BAR -->
<div id="rb"></div>
<div class="abs" style="left:1854px;top:12px;width:32px;height:32px;border-radius:6px;background:#d6dade"></div><div class="abs" style="left:1862.5px;top:20.5px;width:15px;height:15px;border-radius:50%;background:#555d68;color:#e6e9ec;font-size:11.5px;font-weight:bold;line-height:15px;text-align:center">?</div><div class="rsep" style="top:60px"></div><div class="rc" style="top:75px"></div><div class="rc" style="top:121px"></div><div class="rc" style="top:167px"></div><svg class="abs" style="left:1860px;top:81.5px" width="22" height="22" viewBox="0 0 22 22"><path d="M16.9 4.9 A8.4 8.4 0 1 0 19.3 11.6 L19.3 10.2" fill="none" stroke="#535c69" stroke-width="1.7" stroke-linecap="round"/><circle cx="11" cy="11" r="5.2" fill="#535c69"/><path d="M10.3 7.6 l.8 2 2 .8 -2 .8 -.8 2 -.8-2 -2-.8 2-.8z" fill="#dfe3e7"/><path d="M13.4 11.6 l.45 1.05 1.05.45 -1.05.45 -.45 1.05 -.45-1.05 -1.05-.45 1.05-.45z" fill="#dfe3e7"/></svg><svg class="abs" style="left:1861.5px;top:129px" width="18" height="18" viewBox="0 0 18 18"><path d="M9 1.2 C5.6 1.2 4 3.8 4 6.8 V10 L2.2 13 V13.6 H15.8 V13 L14 10 V6.8 C14 3.8 12.4 1.2 9 1.2 Z" fill="#5b6573"/><path d="M7.4 15 H10.6 A1.6 1.6 0 0 1 7.4 15Z" fill="#5b6573"/></svg><svg class="abs" style="left:1860px;top:174px" width="22" height="22" viewBox="0 0 22 22"><path d="M17.2 15.8 A8 8 0 1 0 15 17.6 L19 19 Z" fill="none" stroke="#535c69" stroke-width="1.6" stroke-linejoin="round"/><path d="M7 8 H14.5 M7 8 l2-1.8 M7 8 l2 1.8 M15 12.6 H7.5 M15 12.6 l-2-1.8 M15 12.6 l-2 1.8" stroke="#535c69" stroke-width="1.3" fill="none"/></svg><div class="rsep" style="top:215px"></div><svg class="abs" style="left:1862px;top:226px" width="19" height="19" viewBox="0 0 19 19"><circle cx="7.5" cy="7.5" r="5.2" fill="none" stroke="#525c69" stroke-width="1.8"/><path d="M11.3 11.3 L17 17" stroke="#525c69" stroke-width="2.2" stroke-linecap="round"/></svg><div class="rsep" style="top:253px"></div><div class="px" style="left:1850px;top:270px;height:10px;background:#f0dfe6"></div><div class="px" style="left:1860px;top:270px;height:10px;background:#f3a9bf"></div><div class="px" style="left:1870px;top:270px;height:10px;background:#f3a2bb"></div><div class="px" style="left:1880px;top:270px;height:10px;background:#f0cfda"></div><div class="px" style="left:1850px;top:280px;height:10px;background:#f2cbd8"></div><div class="px" style="left:1860px;top:280px;height:10px;background:#f5c2d2"></div><div class="px" style="left:1870px;top:280px;height:10px;background:#f5b3c8"></div><div class="px" style="left:1880px;top:280px;height:10px;background:#f3a3bc"></div><div class="px" style="left:1850px;top:290px;height:10px;background:#f0dde4"></div><div class="px" style="left:1860px;top:290px;height:10px;background:#f3a3bc"></div><div class="px" style="left:1870px;top:290px;height:10px;background:#f6d0db"></div><div class="px" style="left:1880px;top:290px;height:10px;background:#f3c6d3"></div><div class="px" style="left:1860px;top:300px;height:10px;background:#f0dde4"></div><div class="px" style="left:1870px;top:300px;height:10px;background:#f5d3dd"></div><div class="px" style="left:1850px;top:319px;height:10px;background:#eceeed"></div><div class="px" style="left:1860px;top:319px;height:10px;background:#a39b96"></div><div class="px" style="left:1870px;top:319px;height:10px;background:#a69383"></div><div class="px" style="left:1880px;top:319px;height:10px;background:#efefef"></div><div class="px" style="left:1850px;top:329px;height:10px;background:#efefef"></div><div class="px" style="left:1860px;top:329px;height:10px;background:#baa8a2"></div><div class="px" style="left:1870px;top:329px;height:10px;background:#dbbab1"></div><div class="px" style="left:1880px;top:329px;height:10px;background:#efefef"></div><div class="px" style="left:1860px;top:339px;height:10px;background:#b5b0ae"></div><div class="px" style="left:1870px;top:339px;height:10px;background:#d3c5b8"></div><div class="px" style="left:1860px;top:349px;height:10px;background:#e9ecef"></div><div class="px" style="left:1870px;top:349px;height:10px;background:#ecedec"></div><div class="px" style="left:1850px;top:359px;height:10px;background:#edeff1"></div><div class="px" style="left:1860px;top:359px;height:10px;background:#b3b1b6"></div><div class="px" style="left:1870px;top:359px;height:10px;background:#9e9ca6"></div><div class="px" style="left:1880px;top:359px;height:10px;background:#e9edf0"></div><div class="px" style="left:1850px;top:369px;height:10px;background:#d8e3ee"></div><div class="px" style="left:1860px;top:369px;height:10px;background:#c79f9f"></div><div class="px" style="left:1870px;top:369px;height:10px;background:#c99d9b"></div><div class="px" style="left:1880px;top:369px;height:10px;background:#adc0d8"></div><div class="px" style="left:1850px;top:379px;height:10px;background:#cfd9e2"></div><div class="px" style="left:1860px;top:379px;height:10px;background:#b9adb0"></div><div class="px" style="left:1870px;top:379px;height:10px;background:#c4a5a5"></div><div class="px" style="left:1880px;top:379px;height:10px;background:#a9b8ce"></div><div class="px" style="left:1850px;top:389px;height:10px;background:#eceef0"></div><div class="px" style="left:1860px;top:389px;height:10px;background:#eaecee"></div><div class="px" style="left:1870px;top:389px;height:10px;background:#e9ebed"></div><div class="px" style="left:1880px;top:389px;height:10px;background:#e9ecee"></div><div class="px" style="left:1860px;top:399px;height:10px;background:#e6ecf7"></div><div class="px" style="left:1870px;top:399px;height:10px;background:#e0e9f5"></div><div class="px" style="left:1850px;top:409px;height:10px;background:#e3e4f4"></div><div class="px" style="left:1860px;top:409px;height:10px;background:#a9aee6"></div><div class="px" style="left:1870px;top:409px;height:10px;background:#9baae4"></div><div class="px" style="left:1880px;top:409px;height:10px;background:#d6d3ec"></div><div class="px" style="left:1850px;top:419px;height:10px;background:#dccfea"></div><div class="px" style="left:1860px;top:419px;height:10px;background:#bfa4e0"></div><div class="px" style="left:1870px;top:419px;height:10px;background:#dba9c9"></div><div class="px" style="left:1880px;top:419px;height:10px;background:#db92b3"></div><div class="px" style="left:1850px;top:429px;height:10px;background:#e8dcec"></div><div class="px" style="left:1860px;top:429px;height:10px;background:#ebb9b0"></div><div class="px" style="left:1870px;top:429px;height:10px;background:#f7ae87"></div><div class="px" style="left:1880px;top:429px;height:10px;background:#f5cdc6"></div><div class="px" style="left:1860px;top:449px;height:10px;background:#f2f3f3"></div><div class="px" style="left:1870px;top:449px;height:10px;background:#f3f4f3"></div><div class="px" style="left:1850px;top:459px;height:10px;background:#ebeae8"></div><div class="px" style="left:1860px;top:459px;height:10px;background:#dfd3cb"></div><div class="px" style="left:1870px;top:459px;height:10px;background:#ccc4c0"></div><div class="px" style="left:1880px;top:459px;height:10px;background:#cfcbc7"></div><div class="px" style="left:1850px;top:469px;height:10px;background:#f1f2f1"></div><div class="px" style="left:1860px;top:469px;height:10px;background:#b0aaa6"></div><div class="px" style="left:1870px;top:469px;height:10px;background:#817b78"></div><div class="px" style="left:1880px;top:469px;height:10px;background:#b5aba7"></div><div class="px" style="left:1860px;top:479px;height:10px;background:#eadd9e"></div><div class="px" style="left:1870px;top:479px;height:10px;background:#e3d171"></div><div class="px" style="left:1850px;top:498px;height:10px;background:#eddad6"></div><div class="px" style="left:1860px;top:498px;height:10px;background:#efb5ac"></div><div class="px" style="left:1870px;top:498px;height:10px;background:#eeb3aa"></div><div class="px" style="left:1880px;top:498px;height:10px;background:#efcbc5"></div><div class="px" style="left:1850px;top:508px;height:10px;background:#f0cec9"></div><div class="px" style="left:1860px;top:508px;height:10px;background:#f1cbc4"></div><div class="px" style="left:1870px;top:508px;height:10px;background:#f3ddd8"></div><div class="px" style="left:1880px;top:508px;height:10px;background:#ed9e90"></div><div class="px" style="left:1850px;top:518px;height:10px;background:#f0d0cb"></div><div class="px" style="left:1860px;top:518px;height:10px;background:#ee9f91"></div><div class="px" style="left:1870px;top:518px;height:10px;background:#ec9888"></div><div class="px" style="left:1880px;top:518px;height:10px;background:#eea496"></div><div class="px" style="left:1860px;top:528px;height:10px;background:#efc5bf"></div><div class="px" style="left:1870px;top:528px;height:10px;background:#eaa99e"></div><div class="px" style="left:1860px;top:538px;height:10px;background:#e8e8e8"></div><div class="px" style="left:1870px;top:538px;height:10px;background:#e6e6e5"></div><div class="px" style="left:1850px;top:548px;height:10px;background:#e2d6d3"></div><div class="px" style="left:1860px;top:548px;height:10px;background:#dfd0cc"></div><div class="px" style="left:1870px;top:548px;height:10px;background:#dfcfca"></div><div class="px" style="left:1880px;top:548px;height:10px;background:#d2bdb6"></div><div class="px" style="left:1850px;top:558px;height:10px;background:#e1d5d2"></div><div class="px" style="left:1860px;top:558px;height:10px;background:#e0d2ce"></div><div class="px" style="left:1870px;top:558px;height:10px;background:#f3efee"></div><div class="px" style="left:1880px;top:558px;height:10px;background:#d2b9b0"></div><div class="px" style="left:1850px;top:568px;height:10px;background:#e5e1df"></div><div class="px" style="left:1860px;top:568px;height:10px;background:#e2d3cf"></div><div class="px" style="left:1870px;top:568px;height:10px;background:#dfcdc8"></div><div class="px" style="left:1880px;top:568px;height:10px;background:#dfd0cc"></div><div class="px" style="left:1860px;top:578px;height:10px;background:#eeeeee"></div><div class="px" style="left:1870px;top:578px;height:10px;background:#ececec"></div><div class="px" style="left:1860px;top:588px;height:10px;background:#b7cddd"></div><div class="px" style="left:1870px;top:588px;height:10px;background:#9dbbd0"></div><div class="px" style="left:1850px;top:598px;height:10px;background:#c7d8e6"></div><div class="px" style="left:1860px;top:598px;height:10px;background:#c5d3de"></div><div class="px" style="left:1870px;top:598px;height:10px;background:#c3c6cb"></div><div class="px" style="left:1880px;top:598px;height:10px;background:#9db8ca"></div><div class="px" style="left:1850px;top:608px;height:10px;background:#cddde8"></div><div class="px" style="left:1860px;top:608px;height:10px;background:#b9c8d6"></div><div class="px" style="left:1870px;top:608px;height:10px;background:#b4b6bd"></div><div class="px" style="left:1880px;top:608px;height:10px;background:#a3b9cc"></div><div class="px" style="left:1850px;top:618px;height:10px;background:#e3eaee"></div><div class="px" style="left:1860px;top:618px;height:10px;background:#dde5ef"></div><div class="px" style="left:1870px;top:618px;height:10px;background:#d9dade"></div><div class="px" style="left:1880px;top:618px;height:10px;background:#d6e2eb"></div><div class="px" style="left:1850px;top:638px;height:10px;background:#e6f1f2"></div><div class="px" style="left:1860px;top:638px;height:10px;background:#a5dedb"></div><div class="px" style="left:1870px;top:638px;height:10px;background:#86d4cd"></div><div class="px" style="left:1880px;top:638px;height:10px;background:#dcefef"></div><div class="px" style="left:1850px;top:648px;height:10px;background:#bce3e3"></div><div class="px" style="left:1860px;top:648px;height:10px;background:#a5dedb"></div><div class="px" style="left:1870px;top:648px;height:10px;background:#eef5f8"></div><div class="px" style="left:1880px;top:648px;height:10px;background:#86d4cd"></div><div class="px" style="left:1850px;top:658px;height:10px;background:#d9ecef"></div><div class="px" style="left:1860px;top:658px;height:10px;background:#a2dcd9"></div><div class="px" style="left:1870px;top:658px;height:10px;background:#a0dbd8"></div><div class="px" style="left:1880px;top:658px;height:10px;background:#bfe6e4"></div><div class="px" style="left:1860px;top:668px;height:10px;background:#e4f0f1"></div><div class="px" style="left:1870px;top:668px;height:10px;background:#dfeeef"></div><div class="px" style="left:1860px;top:677px;height:10px;background:#f0ece4"></div><div class="px" style="left:1870px;top:677px;height:10px;background:#efe9df"></div><div class="px" style="left:1850px;top:687px;height:10px;background:#f0f2f7"></div><div class="px" style="left:1860px;top:687px;height:10px;background:#d6c2a2"></div><div class="px" style="left:1870px;top:687px;height:10px;background:#dfb874"></div><div class="px" style="left:1880px;top:687px;height:10px;background:#f4f5f7"></div><div class="px" style="left:1850px;top:697px;height:10px;background:#efefef"></div><div class="px" style="left:1860px;top:697px;height:10px;background:#b8a298"></div><div class="px" style="left:1870px;top:697px;height:10px;background:#bd9d94"></div><div class="px" style="left:1880px;top:697px;height:10px;background:#d9c6b3"></div><div class="px" style="left:1860px;top:707px;height:10px;background:#d5cfd8"></div><div class="px" style="left:1870px;top:707px;height:10px;background:#a598b6"></div><div class="px" style="left:1880px;top:707px;height:10px;background:#ececea"></div><div class="px" style="left:1850px;top:727px;height:10px;background:#e3e8f3"></div><div class="px" style="left:1860px;top:727px;height:10px;background:#d3d6e0"></div><div class="px" style="left:1870px;top:727px;height:10px;background:#d3d0d3"></div><div class="px" style="left:1880px;top:727px;height:10px;background:#dde8ef"></div><div class="px" style="left:1850px;top:737px;height:10px;background:#d8e0ea"></div><div class="px" style="left:1860px;top:737px;height:10px;background:#9c9eaa"></div><div class="px" style="left:1870px;top:737px;height:10px;background:#a19391"></div><div class="px" style="left:1880px;top:737px;height:10px;background:#bed1e2"></div><div class="px" style="left:1850px;top:747px;height:10px;background:#e5e1e6"></div><div class="px" style="left:1860px;top:747px;height:10px;background:#a8a5b5"></div><div class="px" style="left:1870px;top:747px;height:10px;background:#a09aa8"></div><div class="px" style="left:1880px;top:747px;height:10px;background:#d7c8c6"></div><div class="px" style="left:1860px;top:757px;height:10px;background:#cfd1df"></div><div class="px" style="left:1870px;top:757px;height:10px;background:#c8c8d5"></div><div class="px" style="left:1860px;top:767px;height:10px;background:#cde9ec"></div><div class="px" style="left:1870px;top:767px;height:10px;background:#bfe9e6"></div><div class="px" style="left:1850px;top:777px;height:10px;background:#bfe5e4"></div><div class="px" style="left:1860px;top:777px;height:10px;background:#b0e0dd"></div><div class="px" style="left:1870px;top:777px;height:10px;background:#bfe6e3"></div><div class="px" style="left:1880px;top:777px;height:10px;background:#a0dcd7"></div><div class="px" style="left:1850px;top:787px;height:10px;background:#a8deda"></div><div class="px" style="left:1860px;top:787px;height:10px;background:#86d4cd"></div><div class="px" style="left:1870px;top:787px;height:10px;background:#a5dcd8"></div><div class="px" style="left:1880px;top:787px;height:10px;background:#7bd0c9"></div><div class="px" style="left:1850px;top:797px;height:10px;background:#b3e1de"></div><div class="px" style="left:1860px;top:797px;height:10px;background:#96d9d3"></div><div class="px" style="left:1870px;top:797px;height:10px;background:#90d7d1"></div><div class="px" style="left:1880px;top:797px;height:10px;background:#8ed6cf"></div><div class="px" style="left:1860px;top:817px;height:10px;background:#d3d8e1"></div><div class="px" style="left:1870px;top:817px;height:10px;background:#dbe5f3"></div><div class="px" style="left:1850px;top:827px;height:10px;background:#c8d0cf"></div><div class="px" style="left:1860px;top:827px;height:10px;background:#8f8d90"></div><div class="px" style="left:1870px;top:827px;height:10px;background:#a59798"></div><div class="px" style="left:1880px;top:827px;height:10px;background:#8f9596"></div><div class="px" style="left:1850px;top:837px;height:10px;background:#c2c3ca"></div><div class="px" style="left:1860px;top:837px;height:10px;background:#807884"></div><div class="px" style="left:1870px;top:837px;height:10px;background:#8f7f87"></div><div class="px" style="left:1880px;top:837px;height:10px;background:#8e9496"></div><div class="px" style="left:1850px;top:847px;height:10px;background:#eeeeee"></div><div class="px" style="left:1860px;top:847px;height:10px;background:#dccbc8"></div><div class="px" style="left:1870px;top:847px;height:10px;background:#c5bfc0"></div><div class="px" style="left:1880px;top:847px;height:10px;background:#e0e0e3"></div><div class="px" style="left:1850px;top:866px;height:10px;background:#e9f2f5"></div><div class="px" style="left:1860px;top:866px;height:10px;background:#a9ecf0"></div><div class="px" style="left:1870px;top:866px;height:10px;background:#8ee7f2"></div><div class="px" style="left:1880px;top:866px;height:10px;background:#e6f4f6"></div><div class="px" style="left:1850px;top:876px;height:10px;background:#d3eef5"></div><div class="px" style="left:1860px;top:876px;height:10px;background:#d5f2ee"></div><div class="px" style="left:1870px;top:876px;height:10px;background:#eef8f8"></div><div class="px" style="left:1880px;top:876px;height:10px;background:#93d9f5"></div><div class="px" style="left:1850px;top:886px;height:10px;background:#eef1f4"></div><div class="px" style="left:1860px;top:886px;height:10px;background:#eff1f3"></div><div class="px" style="left:1870px;top:886px;height:10px;background:#eff1f3"></div><div class="px" style="left:1880px;top:886px;height:10px;background:#eef1f4"></div><div class="abs" style="left:1844px;top:889px;width:52px;height:52px;border-radius:50%;background:#f0f1f2;box-shadow:0 2px 5px rgba(0,0,0,.18);clip-path:inset(13px -10px -10px -10px)"></div><svg class="abs" style="left:1860px;top:910px" width="20" height="16" viewBox="0 0 20 16"><circle cx="2" cy="3" r="1.6" fill="#a8adb3"/><path d="M6 3 H19 M1 8 H19 M1 13 H19" stroke="#a8adb3" stroke-width="2" fill="none"/></svg>

</div>
</body>
</html>
